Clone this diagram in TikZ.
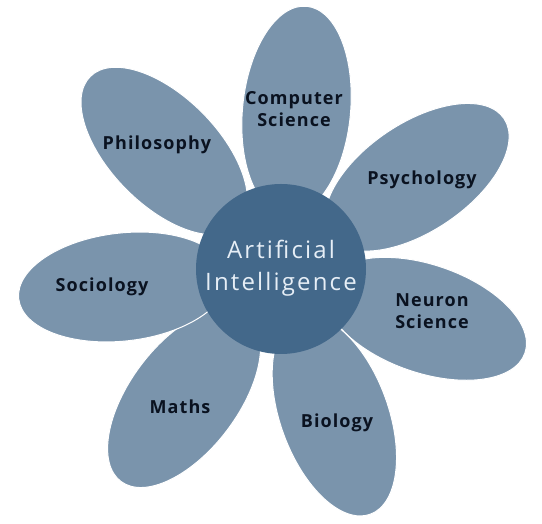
\documentclass[tikz,border=0pt]{standalone}
\usepackage{fontspec}
\setmainfont{Open Sans}
\newfontfamily\petalfont[LetterSpace=6]{Open Sans Bold}
\newfontfamily\corefont[LetterSpace=9]{Open Sans}
\usetikzlibrary{shapes.geometric,calc}
\definecolor{petalblue}{HTML}{7A94AC}
\definecolor{coreblue}{HTML}{43688A}
\definecolor{labeldark}{HTML}{0A1220}
\definecolor{coretext}{HTML}{E6EEF6}
\tikzset{
  petal/.style={ellipse, fill=petalblue, draw=white, line width=1pt,
    minimum width=210pt, minimum height=108pt, inner sep=0pt},
  core/.style={circle, fill=coreblue, minimum size=170pt, inner sep=0pt},
  plabel/.style={text=labeldark, align=center,
    font=\petalfont\fontsize{18}{22.5}\selectfont},
  clabel/.style={text=coretext, align=center,
    font=\corefont\fontsize{24}{32}\selectfont}
}
\begin{document}
\begin{tikzpicture}[x=1pt,y=1pt]
\useasboundingbox (0,0) rectangle (542,524);
\coordinate (C) at (281,255);
\node[petal, rotate=84.4]  (pcs)  at ($(C)+(84.4:159pt)$) {};
\node[petal, rotate=34]    (psy)  at ($(C)+(34:164pt)$) {};
\node[petal, rotate=-19]   (pneu) at ($(C)+(-19:153pt)$) {};
\node[petal, rotate=-70]   (pbio) at ($(C)+(-70:156pt)$) {};
\node[petal, rotate=-127]  (pmat) at ($(C)+(-127:161pt)$) {};
\node[petal, rotate=186.5] (psoc) at ($(C)+(186.5:159pt)$) {};
\node[petal, rotate=134.7] (pphi) at ($(C)+(134.7:166pt)$) {};
\node[core] (core) at (C) {};
\node[clabel] (tcore) at (281,256) {Artificial\\Intelligence};
\node[plabel] (tcs)  at (294,415) {Computer\\Science};
\node[plabel] (tpsy) at (422,344) {Psychology};
\node[plabel] (tneu) at (432,213) {Neuron\\Science};
\node[plabel] (tbio) at (337,101) {Biology};
\node[plabel] (tmat) at (180,117) {Maths};
\node[plabel] (tsoc) at (102,237) {Sociology};
\node[plabel] (tphi) at (157,379) {Philosophy};
\end{tikzpicture}
\end{document}
